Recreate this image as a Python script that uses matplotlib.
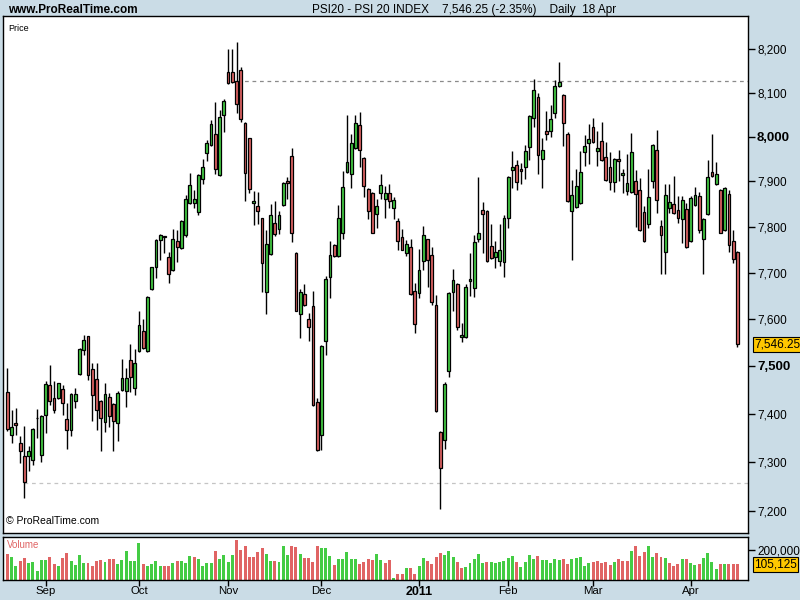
import numpy as np
import matplotlib
matplotlib.use('Agg')
import matplotlib.pyplot as plt
from matplotlib.patches import Rectangle
from matplotlib.ticker import NullLocator
from matplotlib.transforms import blended_transform_factory

# ---------------- data (PSI 20 daily, 19 Aug 2010 - 18 Apr 2011) ----------------
opens = [7446, 7356, 7380, 7339, 7313, 7313, 7304, 7390, 7314, 7397,
         7460, 7433, 7432, 7452, 7389, 7366, 7426, 7483, 7534, 7563,
         7494, 7473, 7427, 7382, 7435, 7420, 7380, 7449, 7447, 7513,
         7453, 7532, 7574, 7532, 7665, 7711, 7770, 7779, 7733, 7705,
         7768, 7753, 7782, 7853, 7852, 7832, 7905, 7963, 7981, 8007,
         7914, 8050, 8146, 8148, 8126, 8151, 8031, 7996, 7853, 7846,
         7818, 7657, 7740, 7809, 7794, 7847, 7901, 7956, 7742, 7610,
         7653, 7599, 7627, 7424, 7356, 7552, 7690, 7759, 7736, 7787,
         7920, 7916, 7975, 8027, 7952, 7883, 7874, 7828, 7874, 7861,
         7874, 7841, 7812, 7778, 7742, 7756, 7660, 7655, 7726, 7772,
         7738, 7629, 7362, 7345, 7489, 7657, 7675, 7561, 7561, 7681,
         7666, 7774, 7836, 7834, 7757, 7733, 7726, 7723, 7820, 7925,
         7936, 7927, 7932, 7977, 8042, 8089, 7950, 8012, 8014, 8054,
         8114, 8095, 8007, 7834, 7843, 7852, 7966, 7985, 8022, 7968,
         7990, 7954, 7932, 7898, 7950, 7914, 7879, 7876, 7900, 7881,
         7832, 7805, 7900, 7970, 7801, 7745, 7841, 7850, 7836, 7816,
         7838, 7768, 7848, 7867, 7774, 7828, 7922, 7894, 7881, 7792,
         7872, 7768, 7745]
highs = [7496, 7408, 7412, 7354, 7375, 7333, 7370, 7409, 7397, 7469,
         7502, 7469, 7465, 7461, 7422, 7443, 7454, 7539, 7566, 7564,
         7506, 7506, 7429, 7464, 7443, 7422, 7447, 7515, 7496, 7547,
         7536, 7617, 7600, 7649, 7713, 7772, 7784, 7780, 7745, 7794,
         7793, 7814, 7869, 7918, 7880, 7916, 7950, 7992, 8038, 8078,
         8061, 8086, 8200, 8200, 8216, 8158, 8033, 7998, 7878, 7877,
         7820, 7793, 7850, 7857, 7835, 7898, 7909, 7974, 7745, 7665,
         7675, 7613, 7660, 7433, 7544, 7692, 7769, 7762, 7848, 7924,
         8049, 8006, 8050, 8055, 7954, 7885, 7877, 7861, 7917, 7890,
         7894, 7866, 7820, 7794, 7771, 7772, 7677, 7751, 7801, 7774,
         7755, 7651, 7364, 7466, 7657, 7708, 7677, 7592, 7675, 7742,
         7782, 7909, 7854, 7837, 7806, 7769, 7806, 7825, 7911, 7968,
         7948, 7940, 7981, 8048, 8132, 8100, 7996, 8058, 8071, 8128,
         8169, 8097, 8010, 7903, 7928, 7968, 8004, 8028, 8043, 8012,
         8034, 7987, 7965, 7952, 7970, 7928, 7961, 8009, 7925, 7907,
         7845, 7928, 7983, 8016, 7814, 7894, 7894, 7912, 7867, 7867,
         7852, 7867, 7887, 7876, 7818, 7948, 8007, 7943, 7883, 7887,
         7881, 7792, 7747]
lows = [7365, 7340, 7356, 7297, 7227, 7281, 7293, 7349, 7301, 7360,
        7418, 7402, 7430, 7397, 7327, 7353, 7411, 7481, 7524, 7471,
        7384, 7367, 7322, 7362, 7372, 7322, 7344, 7447, 7413, 7446,
        7438, 7530, 7536, 7530, 7662, 7688, 7727, 7743, 7678, 7703,
        7722, 7751, 7778, 7851, 7841, 7825, 7894, 7945, 7978, 7917,
        7912, 8011, 8119, 8122, 8054, 8033, 7857, 7874, 7804, 7806,
        7657, 7610, 7738, 7780, 7784, 7845, 7860, 7767, 7616, 7559,
        7627, 7552, 7416, 7323, 7325, 7524, 7646, 7734, 7734, 7773,
        7918, 7885, 7973, 7933, 7866, 7816, 7785, 7798, 7862, 7820,
        7841, 7817, 7749, 7748, 7735, 7651, 7571, 7646, 7705, 7668,
        7629, 7403, 7205, 7327, 7476, 7617, 7577, 7550, 7559, 7650,
        7648, 7766, 7743, 7722, 7729, 7710, 7715, 7691, 7798, 7886,
        7880, 7894, 7906, 7948, 8021, 7916, 7885, 7992, 7999, 8042,
        8112, 7978, 7855, 7727, 7841, 7850, 7934, 7939, 7986, 7934,
        7946, 7901, 7881, 7877, 7900, 7875, 7870, 7874, 7800, 7790,
        7766, 7796, 7885, 7830, 7696, 7696, 7830, 7828, 7809, 7764,
        7753, 7766, 7846, 7787, 7696, 7826, 7909, 7892, 7785, 7790,
        7745, 7720, 7540]
closes = [7368, 7372, 7376, 7322, 7259, 7323, 7368, 7392, 7395, 7462,
          7427, 7407, 7464, 7422, 7366, 7441, 7441, 7536, 7555, 7481,
          7439, 7407, 7391, 7441, 7395, 7384, 7444, 7474, 7474, 7476,
          7507, 7587, 7538, 7647, 7711, 7770, 7782, 7778, 7696, 7772,
          7755, 7812, 7861, 7892, 7861, 7914, 7932, 7985, 8028, 7927,
          8044, 8081, 8121, 8124, 8073, 8040, 7918, 7883, 7857, 7834,
          7720, 7761, 7825, 7783, 7825, 7896, 7896, 7787, 7618, 7657,
          7629, 7582, 7418, 7325, 7542, 7685, 7738, 7736, 7818, 7887,
          7943, 7985, 8031, 7970, 7889, 7834, 7787, 7845, 7892, 7874,
          7856, 7858, 7768, 7750, 7763, 7653, 7589, 7705, 7781, 7728,
          7636, 7405, 7288, 7462, 7655, 7683, 7582, 7565, 7668, 7685,
          7766, 7787, 7828, 7724, 7731, 7745, 7748, 7818, 7909, 7932,
          7898, 7923, 7967, 8046, 8105, 7959, 7970, 8007, 8040, 8115,
          8125, 8031, 7857, 7870, 7889, 7922, 7980, 7994, 7988, 7974,
          7948, 7903, 7898, 7950, 7945, 7919, 7896, 7966, 7872, 7792,
          7768, 7865, 7981, 7859, 7781, 7870, 7854, 7830, 7818, 7859,
          7755, 7863, 7870, 7792, 7816, 7909, 7911, 7916, 7787, 7885,
          7759, 7729, 7546.25]
volumes = [173000, 156000, 96000, 127000, 147000, 116000, 120000, 60000, 133000, 133000,
           153000, 109000, 96000, 147000, 180000, 129000, 102000, 167000, 113000, 113000,
           96000, 127000, 131000, 120000, 140000, 140000, 109000, 133000, 193000, 127000,
           127000, 247000, 109000, 96000, 109000, 127000, 96000, 96000, 96000, 113000,
           127000, 127000, 113000, 162000, 153000, 140000, 96000, 113000, 113000, 193000,
           140000, 167000, 120000, 167000, 264000, 200000, 229000, 153000, 153000, 187000,
           213000, 173000, 127000, 127000, 120000, 229000, 167000, 229000, 218000, 173000,
           147000, 147000, 120000, 227000, 213000, 213000, 162000, 102000, 140000, 140000,
           187000, 140000, 140000, 107000, 120000, 140000, 136000, 173000, 136000, 113000,
           133000, 16000, 42000, 42000, 80000, 80000, 42000, 96000, 147000, 127000,
           109000, 153000, 180000, 169000, 193000, 151000, 120000, 82000, 87000, 113000,
           140000, 173000, 113000, 120000, 120000, 116000, 120000, 127000, 147000, 162000,
           120000, 89000, 120000, 169000, 140000, 162000, 133000, 133000, 113000, 140000,
           133000, 140000, 109000, 140000, 147000, 156000, 96000, 113000, 120000, 127000,
           113000, 120000, 102000, 120000, 140000, 127000, 127000, 193000, 229000, 162000,
           187000, 229000, 156000, 180000, 156000, 147000, 113000, 96000, 109000, 140000,
           140000, 113000, 102000, 109000, 147000, 180000, 120000, 73000, 109000, 109000,
           109000, 109000, 105125]
month_labels = ['Sep', 'Oct', 'Nov', 'Dec', '2011', 'Feb', 'Mar', 'Apr']
month_index = [9, 31, 52, 74, 97, 118, 138, 161]
price_ticks = [7200, 7300, 7400, 7500, 7600, 7700, 7800, 7900, 8000, 8100, 8200]
bold_ticks = [7500, 8000]
ref_levels = [8126, 7258]
ref_start = [54, 4]
volume_ticks = [200000]

# ---------------- style ----------------
BG = '#CADCE6'
GREEN = '#44CC44'
RED = '#E06464'
FONT = ['Liberation Sans', 'DejaVu Sans']
plt.rcParams['font.family'] = FONT

n = len(closes)
x = np.arange(n)

fig = plt.figure(figsize=(8, 6), dpi=100, facecolor=BG)
ax = fig.add_axes([3 / 800, 67 / 600, 745 / 800, 517 / 600])
axv = fig.add_axes([3 / 800, 20 / 600, 745 / 800, 43 / 600])

# ---------------- price panel ----------------
ax.set_yscale('log')
ax.set_xlim(-1.03, 174.5)
ax.set_ylim(7155.6, 8276.5)
ax.set_facecolor('white')

for lvl, st, col in zip(ref_levels, ref_start, ['#8a8a8a', '#c4c4c4']):
    ax.hlines(lvl, st, 174.5, colors=col, linestyles=(0, (3, 3)), lw=0.9, zorder=1)

ax.vlines(x, lows, highs, color='black', lw=1.0, zorder=2)
bw = 0.66
for i in range(n):
    o, c = opens[i], closes[i]
    col = GREEN if c >= o else RED
    ax.add_patch(Rectangle((i - bw / 2, min(o, c)), bw, abs(c - o),
                           facecolor=col, edgecolor='black', lw=0.9, zorder=3))

ax.yaxis.tick_right()
ax.set_yticks(price_ticks)
ax.set_yticklabels([f'{v:,}' for v in price_ticks])
ax.yaxis.set_minor_locator(NullLocator())
ax.tick_params(axis='y', length=5, width=1, pad=1.5, labelsize=8.5, direction='out')
for lab, v in zip(ax.get_yticklabels(), price_ticks):
    if v in bold_ticks:
        lab.set_fontweight('bold')
        lab.set_fontsize(9.5)
ax.set_xticks([])
for s in ax.spines.values():
    s.set_linewidth(1)

tr = blended_transform_factory(ax.transAxes, ax.transData)
ax.text(1.008, closes[-1], f'{closes[-1]:,.2f}', transform=tr, va='center', ha='left',
        fontsize=8.5, bbox=dict(boxstyle='square,pad=0.12', fc='#FFC800', ec='black', lw=0.8))
ax.text(0.007, 0.985, 'Price', transform=ax.transAxes, fontsize=6.5, va='top', ha='left')
ax.text(0.004, 0.013, '\u00a9 ProRealTime.com', transform=ax.transAxes, fontsize=7.5,
        va='bottom', ha='left')

# ---------------- volume panel ----------------
vcols = []
for i in range(n):
    prev = closes[i - 1] if i > 0 else opens[0]
    vcols.append(GREEN if closes[i] >= prev else RED)
axv.bar(x, volumes, width=0.7, color=vcols, edgecolor='none')
axv.set_xlim(-1.03, 174.5)
axv.set_ylim(0, 286700)
axv.set_facecolor('white')
axv.yaxis.tick_right()
axv.set_yticks(volume_ticks)
axv.set_yticklabels([f'{v:,}' for v in volume_ticks])
axv.tick_params(axis='y', length=5, width=1, pad=1.5, labelsize=8.5)
axv.set_xticks(month_index)
axv.set_xticklabels(month_labels)
axv.tick_params(axis='x', length=4, width=1, pad=0.5, labelsize=8.2)
for lab in axv.get_xticklabels():
    if lab.get_text() == '2011':
        lab.set_fontweight('bold')
        lab.set_fontsize(9)
for s in axv.spines.values():
    s.set_linewidth(1)
trv = blended_transform_factory(axv.transAxes, axv.transData)
axv.text(1.008, volumes[-1], f'{volumes[-1]:,}', transform=trv, va='center', ha='left',
         fontsize=8.5, bbox=dict(boxstyle='square,pad=0.12', fc='#FFC800', ec='black', lw=0.8))
axv.text(0.005, 0.93, 'Volume', transform=axv.transAxes, fontsize=7, color='#E06464',
         va='top', ha='left')

# ---------------- header ----------------
fig.text(8 / 800, 1 - 10 / 600, 'www.ProRealTime.com', fontsize=8.5, fontweight='bold',
         va='center', ha='left', family=['Liberation Sans Narrow', 'Liberation Sans'])
fig.text(312 / 800, 1 - 10 / 600,
         'PSI20 - PSI 20 INDEX    7,546.25 (-2.35%)    Daily  18 Apr',
         fontsize=8.5, va='center', ha='left',
         family=['Liberation Sans Narrow', 'Liberation Sans'])

fig.savefig('out.png', dpi=100, facecolor=BG)
